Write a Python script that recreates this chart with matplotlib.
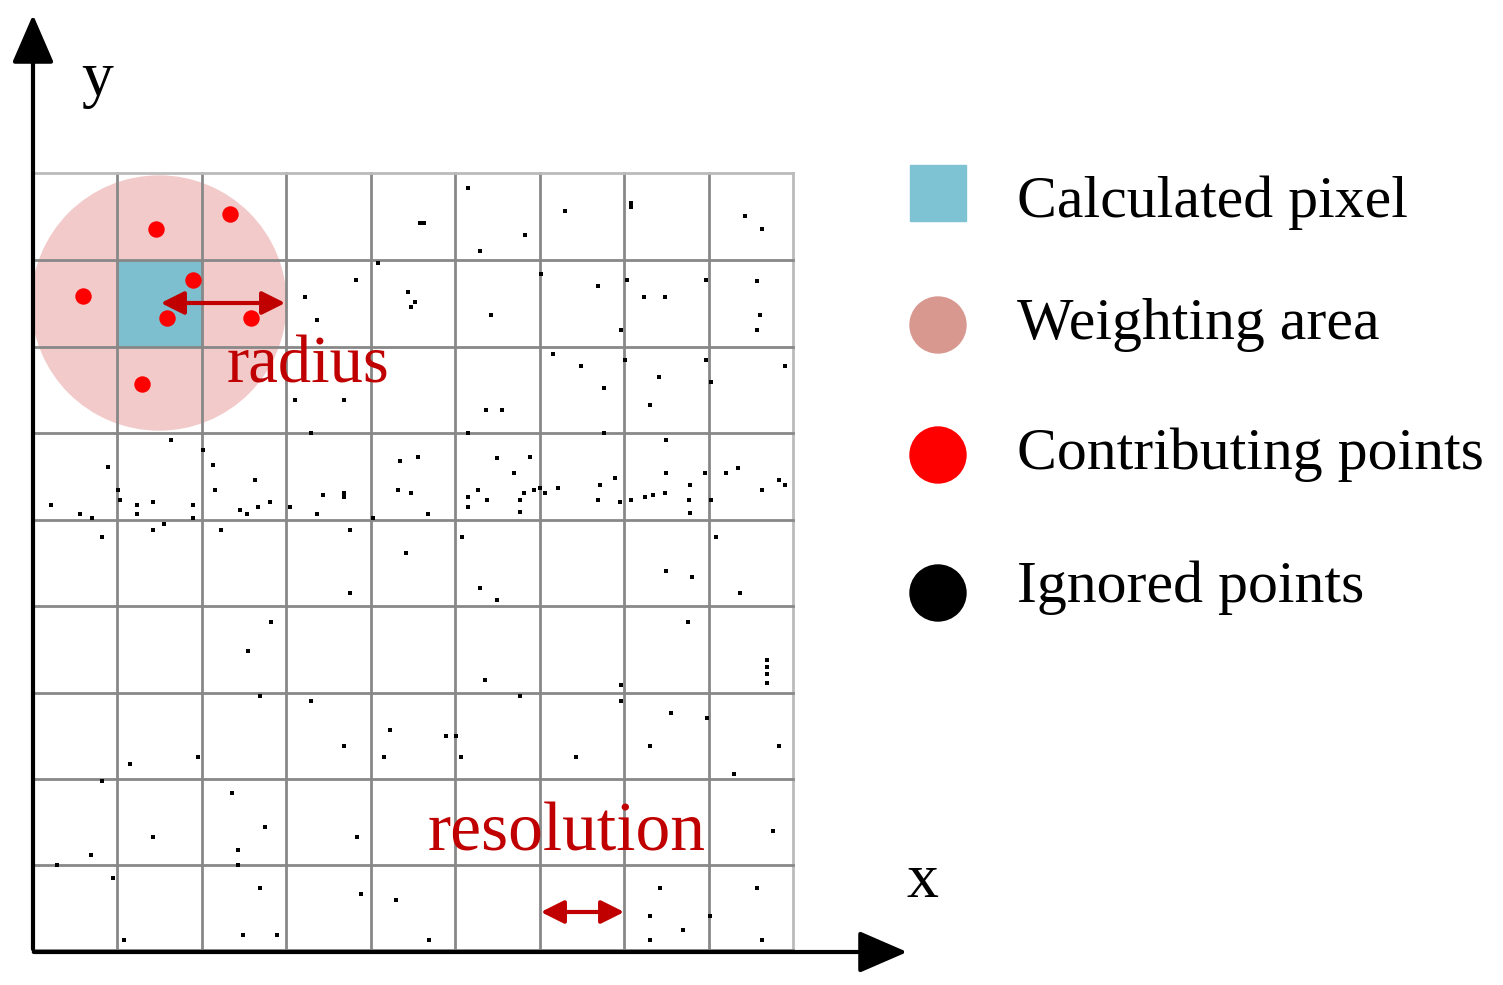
import matplotlib
matplotlib.use('Agg')
import matplotlib.pyplot as plt
from matplotlib.patches import Circle, Rectangle, FancyArrowPatch

# grid geometry (pixel space of the picture)
grid_x = [33, 117, 202, 286, 371, 455, 540, 624, 709, 793]
grid_y = [173, 260, 347, 433, 520, 606, 693, 779, 865, 950]

# ignored points (black)
black_pts = [
    (468,188),(420,223),(424,223),(565,211),(631,203),(631,207),(525,235),(480,251),(745,216),(762,229),
    (378,263),(356,280),(305,297),(408,292),(415,302),(411,307),(317,320),(491,315),(541,274),(598,286),
    (627,280),(644,297),(665,297),(706,280),(757,281),(760,315),(757,330),(621,330),
    (553,354),(581,366),(604,388),(625,360),(659,377),(650,405),(706,360),(711,382),(785,366),(295,400),
    (344,400),(486,410),(502,410),
    (171,440),(203,450),(311,433),(468,433),(604,433),(666,440),(108,467),(213,465),(255,480),(215,490),
    (51,505),(80,514),(92,518),(102,537),(118,490),(120,500),(137,505),(137,514),(153,502),(153,530),
    (164,524),(193,505),(193,518),(240,510),(247,514),(258,507),(270,502),(290,507),(323,495),(344,493),
    (344,497),(317,514),(373,518),(398,490),(411,493),(400,461),(418,457),(428,514),(468,497),(468,507),
    (478,490),(487,500),(497,458),(514,473),(530,457),(520,500),(524,493),(534,490),(540,488),(545,493),
    (558,488),(520,512),(600,485),(615,478),(598,500),(620,502),(631,500),(645,497),(653,495),(665,493),
    (666,473),(690,485),(689,500),(690,513),(705,473),(711,500),(726,473),(738,468),(762,490),(779,480),
    (785,485),
    (221,530),(350,530),(406,553),(462,537),(716,537),(666,571),(692,577),(480,588),(497,600),(350,593),
    (740,593),
    (271,622),(248,651),(688,622),(767,660),(767,667),(767,674),(767,683),(485,680),(621,685),
    (260,696),(311,701),(520,696),(621,701),(390,730),(446,736),(456,736),(461,757),(344,746),(384,757),
    (576,757),(650,746),(671,713),(707,718),(779,746),(130,764),(198,757),(734,774),(102,781),
    (232,793),(265,827),(153,837),(357,837),(238,850),(773,831),(91,855),(57,865),(238,865),
    (113,878),(260,888),(361,894),(396,900),(660,888),(757,888),(710,916),(650,916),(683,930),(650,940),
    (124,940),(243,935),(277,935),(429,940),(762,940),
]
# contributing points (red)
red_pts = [(156,229),(230,214),(83,296),(193,280),(167,318),(251,318),(142,384)]

legend_labels = ['Calculated pixel', 'Weighting area', 'Contributing points', 'Ignored points']
legend_y = [203, 325, 455, 588]

DARKRED = '#C00000'
SERIF = 'Liberation Serif'

fig = plt.figure(figsize=(15.03, 9.85), dpi=100)
ax = fig.add_axes([0, 0, 1, 1])
ax.set_xlim(0, 1503)
ax.set_ylim(985, 0)
ax.axis('off')

# weighting area and calculated pixel
ax.add_patch(Circle((159, 303), 127, color='#F2CACA', zorder=1))
ax.add_patch(Rectangle((117, 260), 85, 87, color='#7EBFCF', zorder=2))

# grid
for i, x in enumerate(grid_x):
    c = '#BBBBBB' if i == len(grid_x) - 1 else '#888888'
    ax.plot([x, x], [grid_y[0], grid_y[-1]], color=c, lw=2, zorder=3)
for i, y in enumerate(grid_y):
    c = '#BBBBBB' if i == 0 else '#888888'
    ax.plot([grid_x[0], grid_x[-1]], [y, y], color=c, lw=2, zorder=3)

bx, by = zip(*black_pts)
ax.scatter(bx, by, s=12, marker='s', color='black', zorder=4, linewidths=0)
rx, ry = zip(*red_pts)
ax.scatter(rx, ry, s=140, color='#FF0000', zorder=5, linewidths=0)

# axes arrows
ax.add_patch(FancyArrowPatch((33, 952), (33, 12), arrowstyle='-|>,head_length=15,head_width=6.5',
                             color='black', lw=3, zorder=6, mutation_scale=2))
ax.add_patch(FancyArrowPatch((31, 952), (910, 952), arrowstyle='-|>,head_length=15,head_width=6.5',
                             color='black', lw=3, zorder=6, mutation_scale=2))
ax.text(97, 80, 'y', fontsize=46, family=SERIF, ha='center', va='center')
ax.text(922, 882, 'x', fontsize=46, family=SERIF, ha='center', va='center')

# radius / resolution arrows
ax.add_patch(FancyArrowPatch((158, 303), (288, 303), arrowstyle='<|-|>,head_length=7,head_width=3.5',
                             color=DARKRED, lw=3, zorder=6, mutation_scale=2))
ax.text(308, 366, 'radius', fontsize=48, family=SERIF, color=DARKRED, ha='center', va='center', zorder=7)
ax.add_patch(FancyArrowPatch((538, 912), (627, 912), arrowstyle='<|-|>,head_length=7,head_width=3.5',
                             color=DARKRED, lw=3, zorder=6, mutation_scale=2))
ax.text(567, 834, 'resolution', fontsize=50, family=SERIF, color=DARKRED, ha='center', va='center', zorder=7)

# legend
ax.add_patch(Rectangle((910, 165), 56, 56, color='#7EC3D3'))
ax.add_patch(Circle((938, 325), 28, color='#D89890'))
ax.add_patch(Circle((938, 455), 28, color='#FF0000'))
ax.add_patch(Circle((938, 593), 28, color='black'))
for lab, y in zip(legend_labels, legend_y):
    ax.text(1017, y, lab, fontsize=43, family=SERIF, ha='left', va='center')

plt.savefig('out.png', dpi=100)
